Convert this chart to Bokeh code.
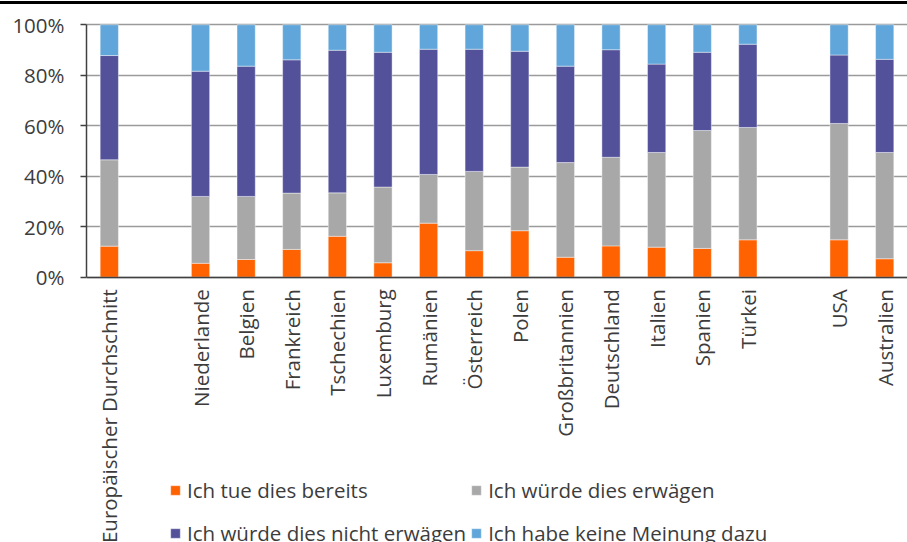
import math
from bokeh.plotting import figure
from bokeh.models import (FactorRange, Range1d, Legend, LegendItem, PrintfTickFormatter,
                          FixedTicker, ColumnDataSource, InlineStyleSheet)
from bokeh.embed import file_html
from bokeh.resources import INLINE

categories = ["Europäischer Durchschnitt", "Niederlande", "Belgien", "Frankreich", "Tschechien",
              "Luxemburg", "Rumänien", "Österreich", "Polen", "Großbritannien", "Deutschland",
              "Italien", "Spanien", "Türkei", "USA", "Australien"]
# axis slots (blank spacer slots separate the groups)
axis_factors = ["Europäischer Durchschnitt", " ", "Niederlande", "Belgien", "Frankreich", "Tschechien",
                "Luxemburg", "Rumänien", "Österreich", "Polen", "Großbritannien", "Deutschland",
                "Italien", "Spanien", "Türkei", "  ", "USA", "Australien"]

bereits = [12.3, 5.5, 7.0, 11.0, 16.2, 5.7, 21.4, 10.5, 18.4, 7.9, 12.4, 11.9, 11.4, 14.8, 14.8, 7.3]
erwaegen = [34.2, 26.5, 25.0, 22.3, 17.2, 30.0, 19.3, 31.4, 25.2, 37.5, 35.1, 37.5, 46.7, 44.5, 46.1, 42.1]
nicht_erwaegen = [41.3, 49.6, 51.6, 52.8, 56.5, 53.4, 49.6, 48.4, 45.9, 38.2, 42.6, 35.0, 31.0, 33.0, 27.1, 36.9]
keine_meinung = [12.2, 18.4, 16.4, 13.9, 10.1, 10.9, 9.7, 9.7, 10.5, 16.4, 9.9, 15.6, 10.9, 7.7, 12.0, 13.7]

series_labels = ["Ich tue dies bereits", "Ich würde dies erwägen",
                 "Ich würde dies nicht erwägen", "Ich habe keine Meinung dazu"]
colors = ["#FF6200", "#A8A8A8", "#52519A", "#60A6DA"]
y_ticks = [0, 20, 40, 60, 80, 100]

FONT = "Open Sans"
TXT = "#3c3c3c"
W, H = 907, 542

source = ColumnDataSource(dict(cat=categories, s0=bereits, s1=erwaegen, s2=nicht_erwaegen, s3=keine_meinung))

# thin black rule across the very top of the chart
top_rule_css = InlineStyleSheet(css="""
:host { position: relative; }
:host::before { content: ""; position: absolute; left: 0; top: 1px; width: 100%; height: 3px;
                background: #000; z-index: 10; pointer-events: none; }
""")

# the frame fills the whole height; the value range is widened so that 0..100% sits
# in the upper part and the category labels and legend fit beneath it
p = figure(width=W, height=H, x_range=FactorRange(factors=axis_factors, range_padding=0),
           y_range=Range1d(-105.1, 109.6), output_backend="svg", toolbar_location=None,
           min_border_left=86, min_border_right=0, min_border_top=0, min_border_bottom=0,
           stylesheets=[top_rule_css])
p.outline_line_color = None
p.background_fill_color = "white"

renderers = p.vbar_stack(["s0", "s1", "s2", "s3"], x="cat", width=0.4, source=source,
                         fill_color=colors, line_color="white", line_width=0.6, line_alpha=0.7)

p.yaxis.ticker = FixedTicker(ticks=y_ticks)
p.yaxis.bounds = (0, 100)
p.yaxis.formatter = PrintfTickFormatter(format="%d%%")
p.yaxis.major_tick_out = 6
p.yaxis.major_tick_in = 0
p.yaxis.minor_tick_line_color = None
p.yaxis.major_label_standoff = 16
p.yaxis.major_label_text_font = FONT
p.yaxis.major_label_text_font_size = "20.5px"
p.yaxis.major_label_text_color = TXT
p.yaxis.axis_line_color = "#404040"
p.yaxis.axis_line_width = 1.5
p.yaxis.major_tick_line_color = "#404040"
p.yaxis.major_tick_line_width = 1.5

p.xaxis.fixed_location = 0
p.xaxis.major_tick_line_color = None
p.xaxis.major_tick_out = 0
p.xaxis.major_tick_in = 0
p.xaxis.minor_tick_line_color = None
p.xaxis.major_label_orientation = math.pi / 2
p.xaxis.major_label_standoff = 12
p.xaxis.major_label_text_font = FONT
p.xaxis.major_label_text_font_size = "20.5px"
p.xaxis.major_label_text_color = TXT
p.xaxis.axis_line_color = "#404040"
p.xaxis.axis_line_width = 1.5

p.xgrid.visible = False
p.ygrid.grid_line_color = "#9a9a9a"
p.ygrid.grid_line_width = 1.5

items = [LegendItem(label=lab, renderers=[r]) for lab, r in zip(series_labels, renderers)]
legend = Legend(items=items, location=(83, -10), orientation="horizontal", ncols=2,
                glyph_width=12, glyph_height=12, label_standoff=6, spacing=4,
                label_text_font=FONT, label_text_font_size="20.5px", label_text_color=TXT,
                label_height=39, padding=0, margin=0, border_line_color=None,
                background_fill_alpha=0)
p.add_layout(legend, "center")

open("out.html", "w").write(file_html(p, INLINE))
